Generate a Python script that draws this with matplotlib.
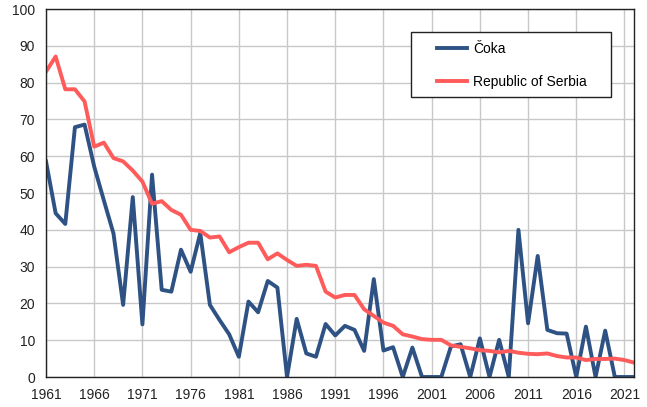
import matplotlib.pyplot as plt
import matplotlib.patches as mpatches
import numpy as np

plt.rcParams['font.family'] = ['Liberation Sans', 'DejaVu Sans']

# data
years = np.arange(1961, 2023)
coka = [58.6, 44.5, 41.6, 67.9, 68.6, 57.2, 48.0, 39.0, 19.6, 48.9,
        14.3, 55.0, 23.7, 23.2, 34.6, 28.6, 39.1, 19.6, 15.5, 11.6,
        5.5, 20.5, 17.6, 26.1, 24.3, 0.0, 15.8, 6.4, 5.5, 14.4,
        11.3, 13.9, 12.8, 7.1, 26.6, 7.2, 8.1, 0.0, 8.0, 0.0,
        0.0, 0.0, 8.3, 8.9, 0.0, 10.5, 0.0, 10.1, 0.0, 40.0,
        14.6, 32.9, 12.8, 11.9, 11.8, 0.0, 13.7, 0.0, 12.6, 0.0,
        0.0, 0.0]
serbia = [83.0, 87.1, 78.2, 78.2, 74.9, 62.6, 63.7, 59.5, 58.6, 56.1,
          53.1, 47.1, 47.8, 45.4, 44.1, 40.0, 39.7, 37.9, 38.2, 33.9,
          35.3, 36.5, 36.5, 32.0, 33.6, 31.8, 30.2, 30.5, 30.2, 23.2,
          21.6, 22.3, 22.3, 18.4, 16.6, 14.8, 13.9, 11.6, 11.0, 10.3,
          10.1, 10.1, 8.6, 8.2, 7.8, 7.3, 7.1, 6.7, 7.1, 6.6,
          6.3, 6.2, 6.4, 5.7, 5.3, 5.3, 4.6, 4.9, 4.9, 5.0,
          4.6, 3.9]
xticks = np.arange(1961, 2022, 5)

fig = plt.figure(figsize=(6.47, 4.07), dpi=100)
ax = fig.add_axes([0.0711, 0.0737, 0.909, 0.904])

ax.plot(years, coka, color='#2E5283', lw=2.8, label='Čoka')
ax.plot(years, serbia, color='#FF5B5B', lw=2.8, label='Republic of Serbia')

ax.set_xlim(1961, 2022)
ax.set_ylim(0, 100)
ax.set_xticks(xticks)
ax.set_yticks(np.arange(0, 101, 10))
ax.tick_params(length=0, labelsize=10, colors='#222222')
ax.tick_params(axis='y', pad=8)
ax.tick_params(axis='x', pad=8)
ax.grid(True, color='#C8C8C8', lw=1)
ax.set_axisbelow(True)
for s in ax.spines.values():
    s.set_color('#222222')
    s.set_linewidth(1)

# legend frame drawn separately so the entries can sit further in
frame = mpatches.Rectangle((0.621, 0.761), 0.340, 0.1766, transform=ax.transAxes,
                           facecolor='white', edgecolor='#222222', lw=1, zorder=4)
ax.add_patch(frame)
leg = ax.legend(loc='upper left', bbox_to_anchor=(0.665, 0.911), borderaxespad=0,
                frameon=False, fontsize=10, borderpad=0,
                labelspacing=1.35, handlelength=2.16, handletextpad=0.43)
leg.set_zorder(5)

fig.savefig('out.png', dpi=100)
